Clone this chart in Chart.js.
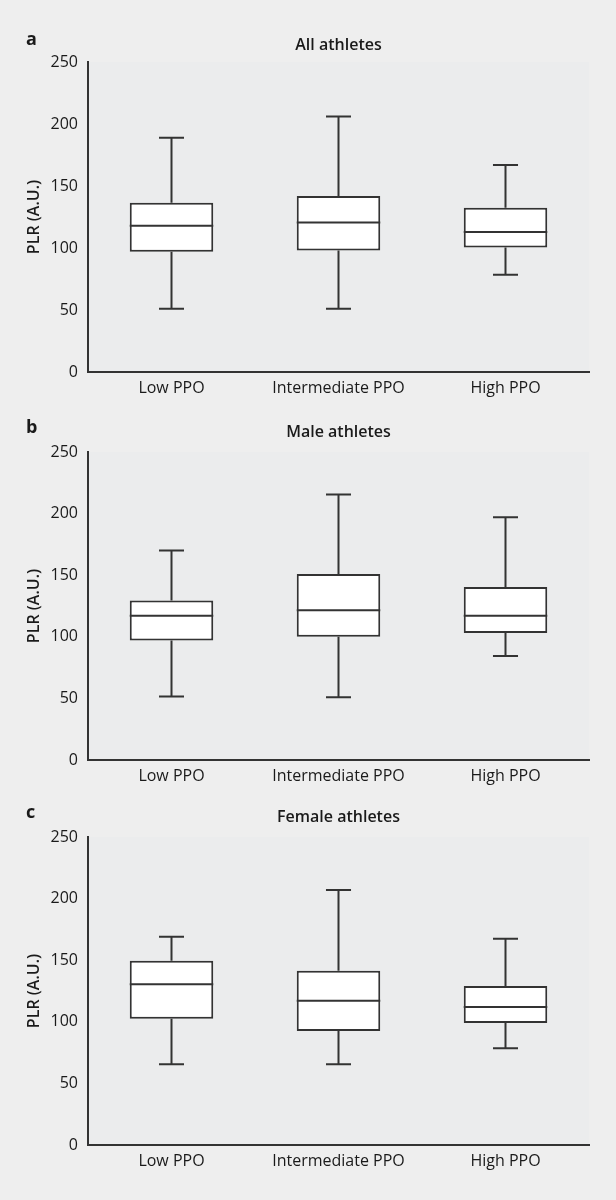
<!DOCTYPE html>
<html>
<head>
<meta charset="utf-8">
<script src="https://cdn.jsdelivr.net/npm/chart.js@4.4.1/dist/chart.umd.min.js"></script>
<style>
  body { margin: 0; background: #eeeeee; width: 616px; height: 1200px; position: relative; overflow: hidden; }
  canvas { position: absolute; left: 0; }
  #chartA { top: 0; }
  #chartB { top: 390px; }
  #chartC { top: 775px; }
</style>
</head>
<body>
<canvas id="chartA" width="616" height="410"></canvas>
<canvas id="chartB" width="616" height="410"></canvas>
<canvas id="chartC" width="616" height="410"></canvas>
<script>
const categories = ["Low PPO", "Intermediate PPO", "High PPO"];
const yTicks = [0, 50, 100, 150, 200, 250];

// a: all athletes
const allMin = [51, 51, 78.5];
const allQ1 = [97, 98, 100.5];
const allMedian = [118, 120.5, 113];
const allQ3 = [136.5, 142, 132.5];
const allMax = [189, 206, 167];

// b: male athletes
const maleMin = [51.5, 51, 84.5];
const maleQ1 = [97, 100, 103];
const maleMedian = [117, 121.5, 117];
const maleQ3 = [129.5, 151, 140.5];
const maleMax = [170, 215.5, 197];

// c: female athletes
const femaleMin = [65.5, 65.5, 78.5];
const femaleQ1 = [102.5, 92.5, 99];
const femaleMedian = [130.5, 117, 112];
const femaleQ3 = [149.5, 141.5, 129];
const femaleMax = [169, 207, 167.5];

const lineColor = "#333333";
const textColor = "#1a1a1a";
const fontFamily = "'Open Sans', sans-serif";

const plotBackground = {
  id: "plotBackground",
  beforeDraw(chart) {
    const { ctx, chartArea } = chart;
    ctx.save();
    ctx.fillStyle = "#ebeced";
    ctx.fillRect(chartArea.left, chartArea.top, chartArea.right - chartArea.left, chartArea.bottom - chartArea.top);
    ctx.restore();
  }
};

// whiskers, caps and median line, placed with the chart's own scales
const boxExtras = {
  id: "boxExtras",
  afterDatasetsDraw(chart, args, opts) {
    const { ctx } = chart;
    const x = chart.scales.x;
    const y = chart.scales.y;
    const meta = chart.getDatasetMeta(0);
    const capHalf = (x.width / categories.length) * 0.075;

    ctx.save();
    ctx.strokeStyle = lineColor;
    ctx.lineWidth = 2;
    ctx.lineCap = "butt";

    categories.forEach((_, i) => {
      const cx = x.getPixelForValue(i);
      const half = meta.data[i].width / 2;
      const yMin = y.getPixelForValue(opts.min[i]);
      const yQ1 = y.getPixelForValue(opts.q1[i]);
      const yMed = y.getPixelForValue(opts.median[i]);
      const yQ3 = y.getPixelForValue(opts.q3[i]);
      const yMax = y.getPixelForValue(opts.max[i]);

      ctx.beginPath();
      ctx.moveTo(cx, yQ3);
      ctx.lineTo(cx, yMax);
      ctx.moveTo(cx - capHalf, yMax);
      ctx.lineTo(cx + capHalf, yMax);
      ctx.moveTo(cx, yQ1);
      ctx.lineTo(cx, yMin);
      ctx.moveTo(cx - capHalf, yMin);
      ctx.lineTo(cx + capHalf, yMin);
      ctx.moveTo(cx - half, yMed);
      ctx.lineTo(cx + half, yMed);
      ctx.stroke();
    });
    ctx.restore();
  }
};

const panelText = {
  id: "panelText",
  afterDraw(chart, args, opts) {
    const { ctx, chartArea } = chart;
    ctx.save();
    ctx.fillStyle = textColor;
    ctx.textBaseline = "alphabetic";
    ctx.font = "bold 18px " + fontFamily;
    ctx.textAlign = "left";
    ctx.fillText(opts.letter, 26, chartArea.top + opts.letterDy);
    ctx.font = "600 16px " + fontFamily;
    ctx.textAlign = "center";
    ctx.fillText(opts.title, (chartArea.left + chartArea.right) / 2, chartArea.top + opts.titleDy);
    ctx.restore();
  }
};

function createBoxChart(canvasId, letter, title, min, q1, median, q3, max, plotHeight, letterDy, titleDy) {
  return new Chart(document.getElementById(canvasId), {
    type: "bar",
    data: {
      labels: categories,
      datasets: [
        {
          data: q1.map((v, i) => [v, q3[i]]),
          backgroundColor: "#ffffff",
          borderColor: lineColor,
          borderWidth: 2,
          borderSkipped: false,
          categoryPercentage: 1,
          barPercentage: 0.5
        }
      ]
    },
    options: {
      responsive: false,
      animation: false,
      events: [],
      layout: {
        padding: { top: 62, right: 27, left: 0, bottom: 0 }
      },
      scales: {
        x: {
          border: { display: true, color: lineColor, width: 2 },
          grid: { display: false, drawTicks: false },
          ticks: {
            color: textColor,
            padding: 7,
            font: { family: fontFamily, size: 16, weight: "500" }
          },
          afterFit(scale) {
            scale.height = 410 - 62 - plotHeight;
          }
        },
        y: {
          min: 0,
          max: 250,
          border: { display: true, color: lineColor, width: 2 },
          grid: { display: false, drawTicks: false },
          afterBuildTicks(scale) {
            scale.ticks = yTicks.map(v => ({ value: v }));
          },
          ticks: {
            color: textColor,
            padding: 10,
            font: { family: fontFamily, size: 16, weight: "500" }
          },
          title: {
            display: true,
            text: "PLR (A.U.)",
            color: textColor,
            padding: { top: 25, bottom: 0 },
            font: { family: fontFamily, size: 16, weight: "600" }
          },
          afterFit(scale) {
            scale.width = 88;
          }
        }
      },
      plugins: {
        legend: { display: false },
        tooltip: { enabled: false },
        boxExtras: { min, q1, median, q3, max },
        panelText: { letter, title, letterDy, titleDy }
      }
    },
    plugins: [plotBackground, boxExtras, panelText]
  });
}

createBoxChart("chartA", "a", "All athletes", allMin, allQ1, allMedian, allQ3, allMax, 310, -17, -12);
createBoxChart("chartB", "b", "Male athletes", maleMin, maleQ1, maleMedian, maleQ3, maleMax, 308, -19, -15);
createBoxChart("chartC", "c", "Female athletes", femaleMin, femaleQ1, femaleMedian, femaleQ3, femaleMax, 308, -19, -15);
</script>
</body>
</html>
